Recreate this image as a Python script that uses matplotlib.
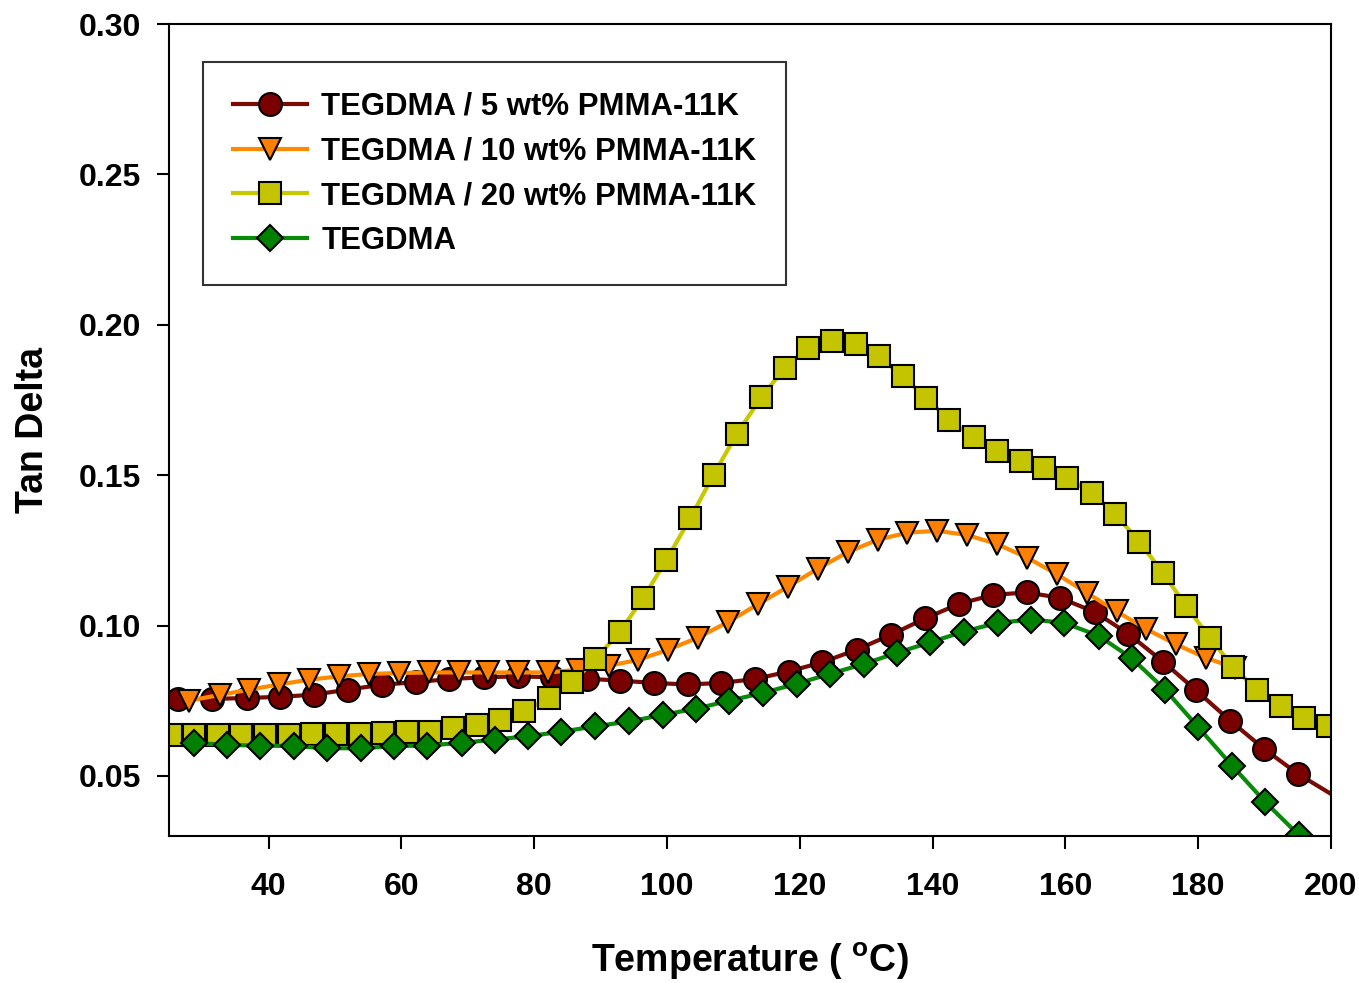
import matplotlib
matplotlib.use("Agg")
import matplotlib.pyplot as plt

plt.rcParams['font.family'] = ['Liberation Sans', 'DejaVu Sans']
plt.rcParams['font.weight'] = 'bold'

# TEGDMA / 5 wt% PMMA-11K
x_5 = [26.3, 31.5, 36.7, 41.7, 46.8, 51.9, 57.1, 62.2, 67.2, 72.4, 77.5, 82.7,
       87.9, 92.9, 98.0, 103.1, 108.1, 113.2, 118.3, 123.4, 128.6, 133.7, 138.9,
       144.0, 149.1, 154.2, 159.2, 164.5, 169.5, 174.7, 179.7, 184.8, 189.9, 195.0]
y_5 = [0.0756, 0.0756, 0.0759, 0.0763, 0.0770, 0.0787, 0.0803, 0.0812, 0.0822,
       0.0828, 0.0831, 0.0828, 0.0823, 0.0817, 0.0809, 0.0804, 0.0809, 0.0822,
       0.0847, 0.0878, 0.0920, 0.0969, 0.1024, 0.1072, 0.1102, 0.1110, 0.1092,
       0.1044, 0.0972, 0.0880, 0.0784, 0.0684, 0.0590, 0.0507]
# curve continues past last marker to the axis edge
x_5_end = 200.0
y_5_end = 0.044

# TEGDMA / 10 wt% PMMA-11K
x_10 = [28.0, 32.6, 37.1, 41.6, 46.1, 50.6, 55.1, 59.6, 64.1, 68.6, 73.1, 77.6,
        82.1, 86.6, 91.2, 95.7, 100.2, 104.7, 109.2, 113.7, 118.2, 122.7, 127.2,
        131.7, 136.2, 140.7, 145.2, 149.7, 154.2, 158.7, 163.2, 167.7, 172.2,
        176.7, 181.2, 185.6]
y_10 = [0.0750, 0.0769, 0.0787, 0.0804, 0.0820, 0.0831, 0.0839, 0.0842, 0.0844,
        0.0844, 0.0844, 0.0844, 0.0844, 0.0853, 0.0866, 0.0886, 0.0920, 0.0960,
        0.1012, 0.1071, 0.1129, 0.1189, 0.1244, 0.1285, 0.1309, 0.1315, 0.1301,
        0.1271, 0.1226, 0.1171, 0.1109, 0.1047, 0.0988, 0.0937, 0.0892, 0.0859]

# TEGDMA / 20 wt% PMMA-11K
x_20 = [25.3, 28.8, 32.3, 35.8, 39.4, 43.1, 46.6, 50.1, 53.7, 57.2, 60.8, 64.3,
        67.8, 71.4, 74.9, 78.4, 82.2, 85.7, 89.2, 92.9, 96.4, 99.9, 103.5, 107.0,
        110.5, 114.2, 117.7, 121.2, 124.8, 128.4, 131.9, 135.5, 139.0, 142.5,
        146.2, 149.7, 153.3, 156.8, 160.3, 164.0, 167.5, 171.1, 174.7, 178.2,
        181.8, 185.3, 188.8, 192.4, 195.9, 199.6]
y_20 = [0.0636, 0.0636, 0.0636, 0.0636, 0.0636, 0.0636, 0.0640, 0.0640, 0.0640,
        0.0642, 0.0645, 0.0647, 0.0658, 0.0670, 0.0687, 0.0715, 0.0758, 0.0811,
        0.0888, 0.0980, 0.1091, 0.1218, 0.1357, 0.1501, 0.1637, 0.1759, 0.1856,
        0.1922, 0.1947, 0.1936, 0.1895, 0.1829, 0.1756, 0.1684, 0.1626, 0.1580,
        0.1548, 0.1523, 0.1490, 0.1441, 0.1371, 0.1279, 0.1175, 0.1064, 0.0958,
        0.0861, 0.0787, 0.0732, 0.0692, 0.0667]

# TEGDMA
x_0 = [28.7, 33.7, 38.7, 43.8, 48.8, 53.9, 58.9, 63.9, 69.1, 74.1, 79.1, 84.1,
       89.2, 94.3, 99.4, 104.4, 109.4, 114.4, 119.5, 124.5, 129.6, 134.6, 139.6,
       144.7, 149.8, 154.8, 159.8, 165.0, 170.0, 175.0, 180.0, 185.1, 190.1, 195.2]
y_0 = [0.0610, 0.0603, 0.0601, 0.0599, 0.0592, 0.0592, 0.0599, 0.0601, 0.0610,
       0.0621, 0.0632, 0.0647, 0.0665, 0.0681, 0.0703, 0.0724, 0.0750, 0.0776,
       0.0806, 0.0839, 0.0872, 0.0909, 0.0944, 0.0980, 0.1009, 0.1020, 0.1009,
       0.0966, 0.0891, 0.0787, 0.0662, 0.0534, 0.0413, 0.0302]

labels = ["TEGDMA / 5 wt% PMMA-11K", "TEGDMA / 10 wt% PMMA-11K",
          "TEGDMA / 20 wt% PMMA-11K", "TEGDMA"]

fig = plt.figure(figsize=(13.59, 9.83), dpi=100)
ax = fig.add_axes([0.1244, 0.1495, 0.855, 0.826])

ax.plot(x_5 + [x_5_end], y_5 + [y_5_end], color='#7a0a04', lw=3,
        marker='o', markevery=list(range(len(x_5))), ms=16.5,
        mfc='#7a0000', mec='black', mew=1.5, label=labels[0])
ax.plot(x_10, y_10, color='#ff8a00', lw=3, marker='v', ms=15.5,
        mfc='#ff8000', mec='black', mew=1.5, label=labels[1])
ax.plot(x_20, y_20, color='#c8c800', lw=3, marker='s', ms=15.5,
        mfc='#c4c400', mec='black', mew=1.5, label=labels[2])
ax.plot(x_0, y_0, color='#0a8a0a', lw=3, marker='D', ms=13.5,
        mfc='#008000', mec='black', mew=1.5, label=labels[3])

ax.set_xlim(25, 200)
ax.set_ylim(0.03, 0.30)
ax.set_xticks([40, 60, 80, 100, 120, 140, 160, 180, 200])
ax.set_yticks([0.05, 0.10, 0.15, 0.20, 0.25, 0.30])
ax.set_yticklabels(['0.05', '0.10', '0.15', '0.20', '0.25', '0.30'])
ax.tick_params(direction='out', length=9, width=1.5, labelsize=23, pad=11)
ax.tick_params(axis='x', pad=17)
for sp in ax.spines.values():
    sp.set_linewidth(1.5)

ax.set_xlabel("Temperature ( $^{\\mathregular{o}}$C)", fontsize=27,
              fontweight='bold', labelpad=28)
ax.set_ylabel("Tan Delta", fontsize=27, fontweight='bold', labelpad=20)

leg = ax.legend(loc='upper left', bbox_to_anchor=(0.0293, 0.953),
                borderaxespad=0, fontsize=22.4, frameon=True, fancybox=False,
                edgecolor='black', handlelength=2.4, handletextpad=0.45,
                labelspacing=0.47, borderpad=0.95)
leg.get_frame().set_linewidth(1.5)

plt.savefig("out.png", dpi=100)
